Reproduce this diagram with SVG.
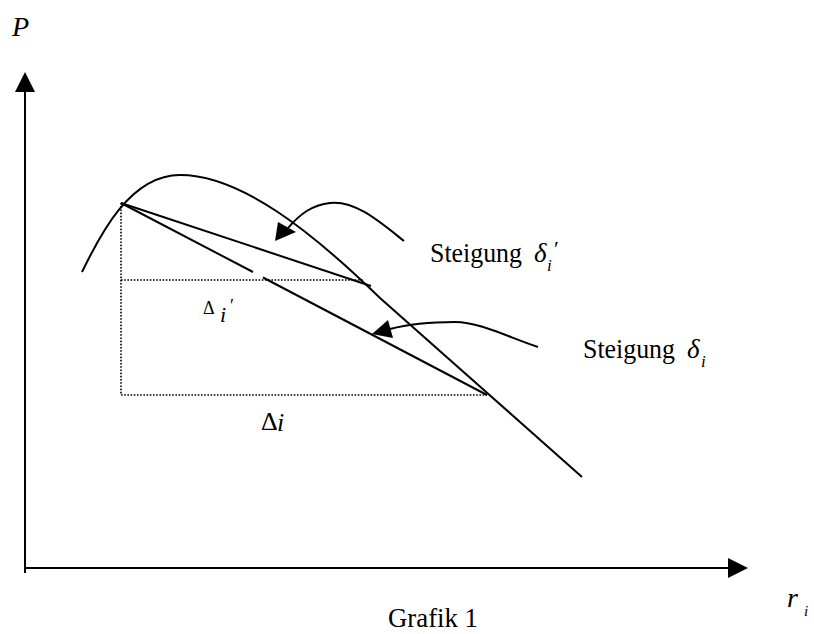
<svg xmlns="http://www.w3.org/2000/svg" width="814" height="634" viewBox="0 0 814 634">
<defs>
<style>
.ln{fill:none;stroke:#000;stroke-width:2}
.dot{fill:none;stroke:#000;stroke-width:1.6;stroke-dasharray:1.6 1.6}
.t{font-family:"Liberation Serif","Times New Roman",serif;fill:#000}
.it{font-style:italic}
.s{font-size:28px}
</style>
</defs>
<g id="axes">
<line class="ln" x1="25" y1="573" x2="25" y2="90"/>
<polygon points="25,72 15,92 35,92" fill="#000"/>
<line class="ln" x1="25" y1="568" x2="730" y2="568"/>
<polygon points="748,568 728,558 728,578" fill="#000"/>
</g>
<g id="curve">
<path class="ln" d="M82,272 C100,235 130,175 180,175 C240,175 310,230 380,298 L582,477"/>
</g>
<g id="guides">
<line class="dot" x1="121" y1="203" x2="121" y2="395"/>
<line class="dot" x1="121" y1="280" x2="363" y2="280"/>
<line class="dot" x1="121" y1="395" x2="487" y2="395"/>
</g>
<g id="tangents">
<line class="ln" x1="121" y1="203" x2="371" y2="286"/>
<line class="ln" x1="121" y1="203" x2="253" y2="272"/>
<line class="ln" x1="263" y1="277.5" x2="487" y2="395"/>
</g>
<g id="connectors">
<path class="ln" d="M404,241 C380,222 355,200 330,203 C312,205 300,214 288,228"/>
<polygon points="275,241 278,222 296,232" fill="#000"/>
<path class="ln" d="M538,347 C510,338 480,322 455,322 C425,322 405,325 390,329"/>
<polygon points="372,334 388,320 393,338" fill="#000"/>
</g>
<g id="labels">
<text class="t it" x="12" y="36" style="font-size:28px">P</text>
<text class="t s" x="430" y="262" textLength="92" lengthAdjust="spacingAndGlyphs">Steigung</text>
<text class="t it" x="534" y="262" style="font-size:27px">δ</text>
<text class="t it" x="547" y="271" style="font-size:17px">i</text>
<text class="t" x="554" y="256" style="font-size:22px">′</text>
<text class="t s" x="583" y="358" textLength="92" lengthAdjust="spacingAndGlyphs">Steigung</text>
<text class="t it" x="687" y="358" style="font-size:27px">δ</text>
<text class="t it" x="701" y="367" style="font-size:17px">i</text>
<text class="t" x="203" y="314" style="font-size:18px">Δ</text>
<text class="t it" x="220" y="322" style="font-size:22px">i</text>
<text class="t" x="230" y="312" style="font-size:18px">′</text>
<text class="t" x="261" y="430" style="font-size:26px">Δ</text>
<text class="t it" x="277" y="431" style="font-size:26px">i</text>
<text class="t s" x="388" y="627" textLength="90" lengthAdjust="spacingAndGlyphs">Grafik 1</text>
<text class="t it" x="787" y="607" style="font-size:28px">r</text>
<text class="t it" x="804" y="616" style="font-size:15px">i</text>
</g>
</svg>
